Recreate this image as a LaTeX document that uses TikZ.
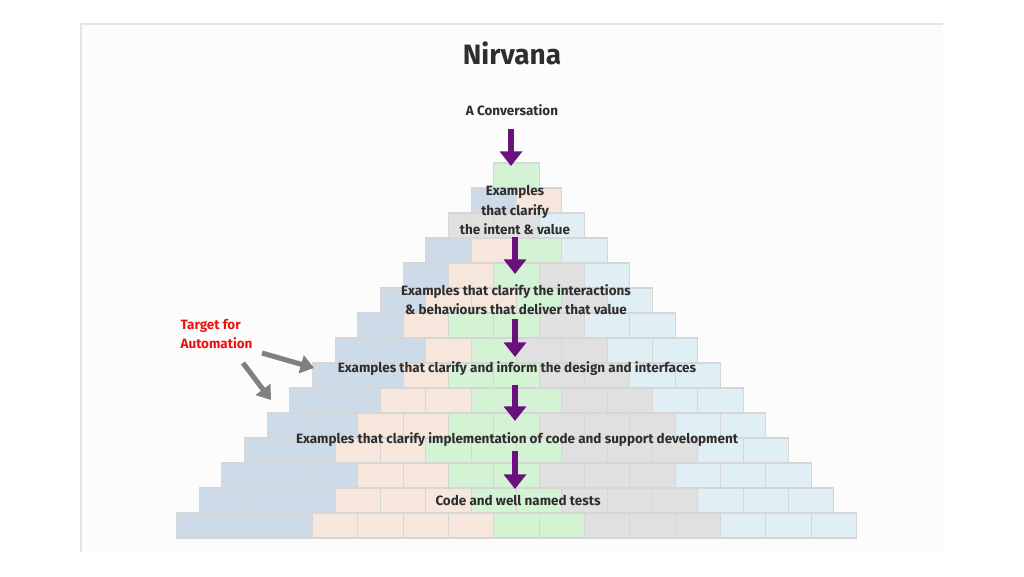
\documentclass[tikz,border=0pt]{standalone}
\usepackage{fontspec}
\setmainfont{Fira Sans}
\usetikzlibrary{arrows.meta}
\definecolor{bkA}{HTML}{CDDAE8}
\definecolor{bkP}{HTML}{F6E6DC}
\definecolor{bkG}{HTML}{D4F2D4}
\definecolor{bkY}{HTML}{E0E0E0}
\definecolor{bkL}{HTML}{E0EFF3}
\definecolor{brickline}{HTML}{D6D6D6}
\definecolor{inkgrey}{HTML}{2E2E2E}
\definecolor{arrowpurple}{HTML}{6A117E}
\definecolor{targetred}{HTML}{EE1111}
\tikzset{
 brick/.style={draw=brickline, line width=0.8pt},
 steptext/.style={text=inkgrey, font=\bfseries\fontsize{10.1}{14.6}\selectfont, align=center, inner sep=1pt},
 downarrow/.style={draw=arrowpurple, line width=3.8pt, -{Triangle[width=16.5pt,length=11pt]}},
 hintarrow/.style={draw=gray, line width=3.8pt, -{Triangle[width=13.5pt,length=10pt]}},
 }

\begin{document}
\begin{tikzpicture}[x=0.75pt, y=-0.75pt]
        \useasboundingbox (0,0) rectangle (1024,576);
        \fill[white] (0,0) rectangle (1024,576);
        \fill[black!1] (81,24) rectangle (943,552);
        \draw[black!10, line width=1.5pt] (81,552) -- (81,24) -- (943,24);

        % the brick pyramid, one row of bricks per line
        \foreach \r/\row in {1/{G}, 2/{A,P}, 3/{Y,Y,L}, 4/{A,P,G,L}, 5/{A,P,G,Y,L},
            6/{A,P,P,G,Y,L}, 7/{A,P,G,G,Y,L,L}, 8/{A,A,P,G,Y,Y,L,L},
            9/{A,A,P,G,G,Y,Y,L,L}, 10/{A,A,P,P,G,G,Y,Y,L,L},
            11/{A,A,P,P,G,G,Y,Y,Y,L,L}, 12/{A,A,P,P,G,G,G,Y,Y,Y,L,L},
            13/{A,A,A,P,P,G,G,Y,Y,Y,L,L,L}, 14/{A,A,A,P,P,P,G,G,Y,Y,Y,L,L,L},
            15/{A,A,A,P,P,P,P,G,G,Y,Y,Y,L,L,L}} {
            \foreach \c [count=\i] in \row {
                \pgfmathsetmacro\bx{516.5-\r*22.667+(\i-1)*45.333}
                \pgfmathsetmacro\by{163+(\r-1)*25}
                \path[brick, fill=bk\c] (\bx,\by) rectangle ++(45.333,25);
            }
        }

        \node[text=inkgrey, font=\bfseries\fontsize{21}{24}\selectfont] (title) at (512,53) {Nirvana};
        \node[steptext] (conversation) at (512,110) {A Conversation};
        \node[steptext] (intent) at (515,210) {Examples\\that clarify\\the intent \& value};
        \node[steptext] (interactions) at (516,299.5) {Examples that clarify the interactions\\\& behaviours that deliver that value};
        \node[steptext] (design) at (517,369) {Examples that clarify and inform the design and interfaces};
        \node[steptext] (implementation) at (517,440) {Examples that clarify implementation of code and support development};
        \node[steptext] (tests) at (518,500) {Code and well named tests};
        \node[steptext, text=targetred, align=left, anchor=west] (target) at (179,334) {Target for\\Automation};

        \coordinate (a1s) at (511,129);  \coordinate (a1e) at (511,166);
        \coordinate (a2s) at (515,237);  \coordinate (a2e) at (515,274);
        \coordinate (a3s) at (515,319);  \coordinate (a3e) at (515,357);
        \coordinate (a4s) at (515,385);  \coordinate (a4e) at (515,421);
        \coordinate (a5s) at (515,451);  \coordinate (a5e) at (515,489);
        \draw[downarrow] (a1s) -- (a1e);
        \draw[downarrow] (a2s) -- (a2e);
        \draw[downarrow] (a3s) -- (a3e);
        \draw[downarrow] (a4s) -- (a4e);
        \draw[downarrow] (a5s) -- (a5e);

        \coordinate (h1s) at (262,353);  \coordinate (h1e) at (314,368);
        \coordinate (h2s) at (243,363);  \coordinate (h2e) at (271,400);
        \draw[hintarrow] (h1s) -- (h1e);
        \draw[hintarrow] (h2s) -- (h2e);
    \end{tikzpicture}
\end{document}
